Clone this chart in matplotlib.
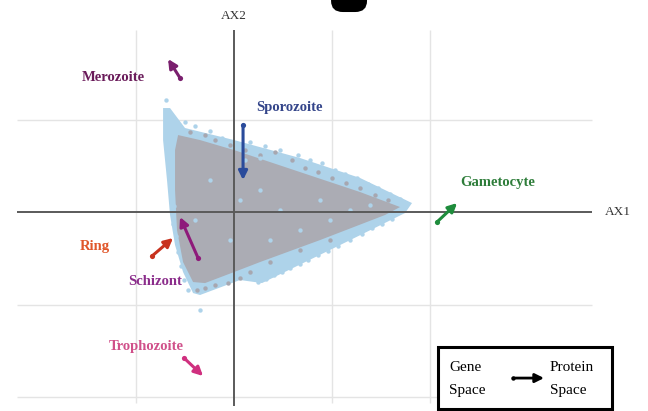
import matplotlib
matplotlib.use("Agg")
import matplotlib.pyplot as plt
from matplotlib.patches import Polygon, Rectangle, FancyBboxPatch

# ---- data -------------------------------------------------------------
# envelope of the dense light-blue cloud (AX1, AX2)
blue_env_x = [-0.724, -0.653, -0.500, 0.000, 0.673, 1.286, 1.816, 1.745, 1.082,
              0.286, 0.061, -0.347, -0.418, -0.520, -0.602, -0.653, -0.684, -0.724]
blue_env_y = [1.124, 1.124, 0.908, 0.778, 0.584, 0.368, 0.097, -0.011, -0.357,
              -0.768, -0.735, -0.897, -0.876, -0.649, -0.357, -0.032, 0.346, 0.778]

# envelope of the dense grey core
grey_env_x = [-0.571, -0.347, 0.000, 0.673, 1.286, 1.694, 1.541, 0.878, 0.265,
              0.000, -0.296, -0.418, -0.520, -0.582, -0.602, -0.602]
grey_env_y = [0.832, 0.778, 0.670, 0.432, 0.216, 0.054, -0.032, -0.303, -0.541,
              -0.649, -0.768, -0.757, -0.541, -0.195, 0.238, 0.670]

# individual light-blue genes
blue_x = [-0.694, -0.694, -0.684, -0.673, -0.673, -0.653, -0.663, -0.643, -0.653,
          -0.633, -0.633, -0.612, -0.622, -0.592, -0.571, -0.541, -0.510, -0.469,
          -0.347,
          -0.500, -0.398, -0.245, -0.122, 0.163, 0.316, 0.469, 0.653, 0.776, 0.898,
          1.031, 1.133, 1.255, 1.367, 1.469, 1.592, 1.694, 0.112, 0.265, 0.571,
          0.245, 0.327, 0.408, 0.490, 0.571, 0.673, 0.755, 0.857, 0.959, 1.061,
          1.184, 1.306, 1.408, 1.510, 1.612,
          0.061, 0.265, 0.469, 0.673, 0.878, 1.184, -0.245, -0.398, -0.041, 0.367,
          1.388, 0.980]
blue_y = [1.211, 1.081, 0.995, 0.908, 0.822, 0.714, 0.605, 0.497, 0.389,
          0.281, 0.173, 0.065, -0.130, -0.259, -0.432, -0.584, -0.735, -0.843,
          -1.059,
          0.973, 0.930, 0.876, 0.800, 0.757, 0.714, 0.670, 0.616, 0.562, 0.530,
          0.454, 0.411, 0.368, 0.303, 0.259, 0.195, 0.141, 0.562, 0.584, 0.508,
          -0.757, -0.724, -0.681, -0.649, -0.605, -0.562, -0.519, -0.465, -0.422,
          -0.368, -0.303, -0.238, -0.173, -0.130, -0.076,
          0.130, 0.238, 0.022, -0.195, 0.130, 0.022, 0.346, -0.086, -0.303, -0.303,
          0.076, -0.086]

# individual grey genes
grey_x = [-0.449, -0.296, -0.194, -0.041, 0.112, 0.265, 0.418, 0.592, 0.724, 0.857,
          1.000, 1.143, 1.286, 1.439, 1.571, -0.378, -0.296, -0.194, -0.061, 0.061,
          0.163, 0.367, 0.673, 0.980]
grey_y = [0.865, 0.832, 0.778, 0.724, 0.670, 0.616, 0.649, 0.562, 0.476, 0.432,
          0.368, 0.314, 0.259, 0.184, 0.130, -0.843, -0.822, -0.789, -0.768, -0.714,
          -0.649, -0.541, -0.411, -0.303]

# life-cycle stages: position in gene space -> position in protein space
stages = ["Merozoite", "Sporozoite", "Gametocyte", "Ring", "Schizont", "Trophozoite"]
gene_x = [-0.551, 0.092, 2.071, -0.837, -0.367, -0.510]
gene_y = [1.449, 0.941, -0.108, -0.476, -0.497, -1.578]
prot_x = [-0.673, 0.092, 2.276, -0.622, -0.551, -0.316]
prot_y = [1.654, 0.346, 0.097, -0.281, -0.054, -1.773]
label_x = [-1.551, 0.224, 2.306, -1.571, -1.082, -1.276]
label_y = [1.459, 1.135, 0.314, -0.368, -0.746, -1.449]
label_colors = ["#6a1b5a", "#34458a", "#2e7d3a", "#e0562a", "#8b2d8b", "#d0508a"]
arrow_colors = ["#7a1f6e", "#2a4b9b", "#1e8c3c", "#c8321e", "#8e1a7a", "#d0307f"]

grid_x = [-1, 1, 2]
grid_y = [1, -1, -2]

# ---- figure ------------------------------------------------------------
fig = plt.figure(figsize=(6.48, 4.11), dpi=100)
ax = fig.add_axes([0, 0, 1, 1])
ax.set_xlim(-2.388, 4.224)
ax.set_ylim(-2.151, 2.292)
ax.axis("off")

serif = "Liberation Serif"

# light grid
ax.hlines(grid_y, -2.214, 3.653, color="#e4e4e4", lw=1.0, zorder=0)
ax.vlines(grid_x, -2.065, 1.968, color="#e4e4e4", lw=1.0, zorder=0)

# dense cloud + individual genes
ax.add_patch(Polygon(list(zip(blue_env_x, blue_env_y)), closed=True,
                     facecolor="#aed3ea", edgecolor="none", zorder=1))
ax.add_patch(Polygon(list(zip(grey_env_x, grey_env_y)), closed=True,
                     facecolor="#abacb4", edgecolor="none", zorder=2))
ax.scatter(grey_x, grey_y, s=10, color="#a7a7b0", linewidths=0, zorder=3)
ax.scatter(blue_x, blue_y, s=10, color="#aed3ea", linewidths=0, zorder=3)

# main axes
ax.hlines(0, -2.214, 3.653, color="#5a5a5a", lw=1.4, zorder=4)
ax.vlines(0, -2.10, 1.968, color="#5a5a5a", lw=1.4, zorder=4)
ax.text(0, 2.115, "AX2", family=serif, fontsize=9.5, color="#333333",
        ha="center", va="center")
ax.text(3.78, 0, "AX1", family=serif, fontsize=9.5, color="#333333",
        ha="left", va="center")

# stage arrows
for name, gx, gy, px, py, lx, ly, lc, ac in zip(stages, gene_x, gene_y, prot_x,
                                                 prot_y, label_x, label_y,
                                                 label_colors, arrow_colors):
    ax.annotate("", xy=(px, py), xytext=(gx, gy),
                arrowprops=dict(arrowstyle="-|>", color=ac, lw=2.2,
                                mutation_scale=13, shrinkA=0, shrinkB=0),
                zorder=6)
    ax.scatter([gx], [gy], s=14, color=ac, zorder=6, linewidths=0)
    ax.text(lx, ly, name, family=serif, fontsize=10.5, fontweight="bold",
            color=lc, ha="left", va="center", zorder=7)

# key box
ax.add_patch(Rectangle((2.082, -2.13), 1.775, 0.671, facecolor="white",
                       edgecolor="black", lw=2.2, zorder=8))
for col_x, words in [(2.194, ("Gene", "Space")), (3.224, ("Protein", "Space"))]:
    ax.text(col_x, -1.676, words[0], family=serif, fontsize=11,
            ha="left", va="center", zorder=9)
    ax.text(col_x, -1.924, words[1], family=serif, fontsize=11,
            ha="left", va="center", zorder=9)
ax.annotate("", xy=(3.163, -1.795), xytext=(2.847, -1.795),
            arrowprops=dict(arrowstyle="-|>", color="black", lw=2.0,
                            mutation_scale=13, shrinkA=0, shrinkB=0), zorder=9)
ax.scatter([2.847], [-1.795], s=10, color="black", zorder=9, linewidths=0)

# clipped panel mark at the top edge
ax.add_patch(FancyBboxPatch((0.99, 2.162), 0.367, 0.4,
                            boxstyle="round,pad=0,rounding_size=0.12",
                            facecolor="black", edgecolor="none", zorder=9))

fig.savefig("out.png", dpi=100)
